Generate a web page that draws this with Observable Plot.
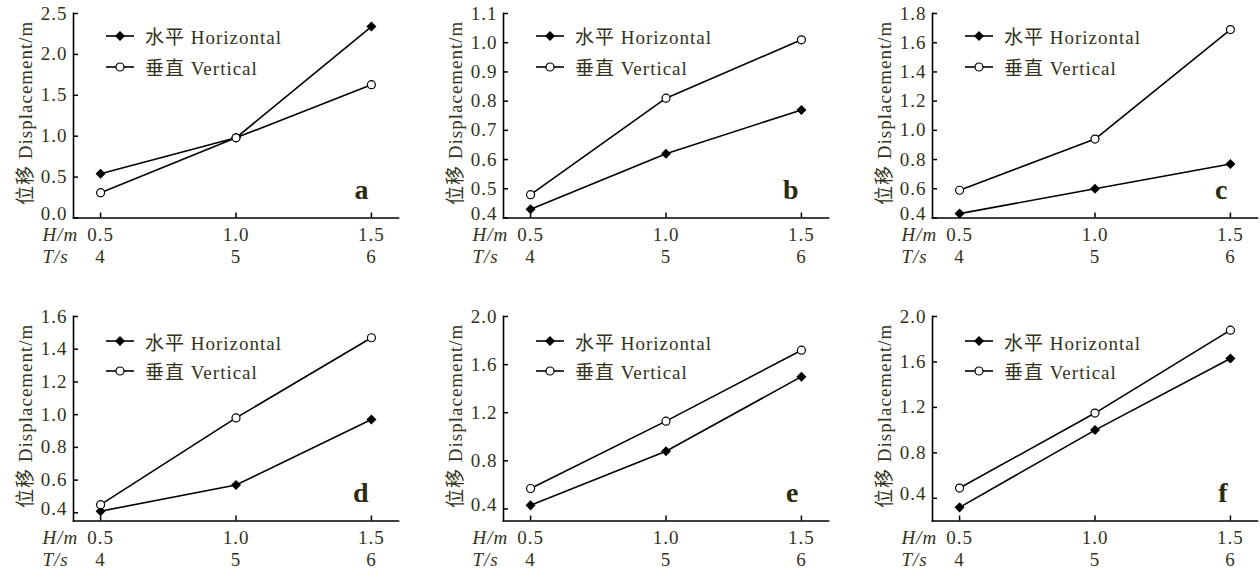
<!DOCTYPE html>
<html>
<head>
<meta charset="utf-8">
<script src="https://cdn.jsdelivr.net/npm/d3@7"></script>
<script src="https://cdn.jsdelivr.net/npm/@observablehq/plot@0.6"></script>
<style>
  body { margin: 0; background: #fff; }
  #wrap { position: relative; width: 1260px; height: 570px; overflow: hidden; background: #fff;
          font-family: "Liberation Serif", "Noto Sans CJK SC", serif; }
  .panel { position: absolute; }
  .legrow { position: absolute; display: flex; align-items: center; height: 24px;
            font-size: 19px; letter-spacing: 1px; color: #33331a; white-space: nowrap; }
  .legrow svg { margin-right: 11px; }
</style>
</head>
<body>
<div id="wrap"></div>
<script>
// ---- data ----
const hm = [0.5, 1.0, 1.5];          // H/m
const ts = [4, 5, 6];                // T/s
const seriesNames = ["水平 Horizontal", "垂直 Vertical"];
const letters = ["a", "b", "c", "d", "e", "f"];
const yLabel = "位移 Displacement/m";

const horizA = [0.54, 0.98, 2.34];
const vertA  = [0.31, 0.98, 1.63];
const horizB = [0.43, 0.62, 0.77];
const vertB  = [0.48, 0.81, 1.01];
const horizC = [0.43, 0.60, 0.77];
const vertC  = [0.59, 0.94, 1.69];
const horizD = [0.41, 0.57, 0.97];
const vertD  = [0.45, 0.98, 1.47];
const horizE = [0.43, 0.88, 1.50];
const vertE  = [0.57, 1.13, 1.72];
const horizF = [0.32, 1.00, 1.63];
const vertF  = [0.49, 1.15, 1.88];

const yTicksA = [0.0, 0.5, 1.0, 1.5, 2.0, 2.5];
const yTicksB = [0.4, 0.5, 0.6, 0.7, 0.8, 0.9, 1.0, 1.1];
const yTicksC = [0.4, 0.6, 0.8, 1.0, 1.2, 1.4, 1.6, 1.8];
const yTicksD = [0.4, 0.6, 0.8, 1.0, 1.2, 1.4, 1.6];
const yTicksE = [0.4, 0.8, 1.2, 1.6, 2.0];
const yTicksF = [0.4, 0.8, 1.2, 1.6, 2.0];

const yDomainA = [0, 2.5];
const yDomainB = [0.4, 1.1];
const yDomainC = [0.4, 1.8];
const yDomainD = [0.35, 1.6];
const yDomainE = [0.3, 2.0];
const yDomainF = [0.2, 2.0];

// ---- layout ----
const textColor = "#33331a";
const fontFamily = '"Liberation Serif", "Noto Sans CJK SC", serif';
const fmt = d3.format(".1f");
const marginLeft = 73;
const plotW = 325;
const plotH = 204.5;
const marginTop = 13;

const panels = [
  {left: 0,   top: 0,   width: 430, height: 285, legY: 23.5, legGap: 31, yDomain: yDomainA, yTicks: yTicksA, horiz: horizA, vert: vertA, letter: letters[0]},
  {left: 430, top: 0,   width: 430, height: 285, legY: 23.5, legGap: 31, yDomain: yDomainB, yTicks: yTicksB, horiz: horizB, vert: vertB, letter: letters[1]},
  {left: 859, top: 0,   width: 401, height: 285, legY: 23.5, legGap: 31, yDomain: yDomainC, yTicks: yTicksC, horiz: horizC, vert: vertC, letter: letters[2]},
  {left: 0,   top: 303, width: 430, height: 267, legY: 26,   legGap: 29.5, yDomain: yDomainD, yTicks: yTicksD, horiz: horizD, vert: vertD, letter: letters[3]},
  {left: 430, top: 303, width: 430, height: 267, legY: 26,   legGap: 29.5, yDomain: yDomainE, yTicks: yTicksE, horiz: horizE, vert: vertE, letter: letters[4]},
  {left: 859, top: 303, width: 401, height: 267, legY: 26,   legGap: 29.5, yDomain: yDomainF, yTicks: yTicksF, horiz: horizF, vert: vertF, letter: letters[5]}
];

const wrap = document.getElementById("wrap");

function legendSwatch(kind) {
  const ns = "http://www.w3.org/2000/svg";
  const svg = document.createElementNS(ns, "svg");
  svg.setAttribute("width", 28); svg.setAttribute("height", 12);
  const line = document.createElementNS(ns, "line");
  line.setAttribute("x1", 0); line.setAttribute("x2", 28);
  line.setAttribute("y1", 6); line.setAttribute("y2", 6);
  line.setAttribute("stroke", "black"); line.setAttribute("stroke-width", 1.6);
  svg.appendChild(line);
  if (kind === 0) {
    const p = document.createElementNS(ns, "path");
    p.setAttribute("d", "M14,1L19,6L14,11L9,6Z");
    p.setAttribute("fill", "black");
    svg.appendChild(p);
  } else {
    const c = document.createElementNS(ns, "circle");
    c.setAttribute("cx", 14); c.setAttribute("cy", 6); c.setAttribute("r", 4);
    c.setAttribute("fill", "white"); c.setAttribute("stroke", "black"); c.setAttribute("stroke-width", 1.2);
    svg.appendChild(c);
  }
  return svg;
}

for (const p of panels) {
  const rows = hm.map((h, i) => ({x: h, t: ts[i], h: p.horiz[i], v: p.vert[i]}));
  const marginRight = p.width - marginLeft - plotW;
  const marginBottom = p.height - marginTop - plotH;
  const firstTick = p.yTicks.slice(0, 1);
  const otherTicks = p.yTicks.slice(1);
  const chart = Plot.plot({
    width: p.width,
    height: p.height,
    marginLeft, marginRight, marginTop, marginBottom,
    style: {fontFamily, fontSize: "19px", color: textColor, background: "white", letterSpacing: "1px", overflow: "visible"},
    x: {domain: [0.4, 1.6]},
    y: {domain: p.yDomain},
    marks: [
      Plot.axisY(otherTicks, {tickSize: 0, tickPadding: 6, tickFormat: fmt, label: null, fill: textColor}),
      Plot.axisY(firstTick, {tickSize: 0, tickPadding: 6, tickFormat: fmt, label: null, fill: textColor, dy: -4}),
      Plot.axisX(hm, {tickSize: 0, tickPadding: 7, label: null, fill: textColor, lineHeight: 1.16,
                      tickFormat: d => `${fmt(d)}\n${ts[hm.indexOf(d)]}`}),
      Plot.tickY(p.yTicks, {stroke: "black", strokeWidth: 1.5, insetRight: plotW - 5}),
      Plot.tickX(hm, {stroke: "black", strokeWidth: 1.5, insetTop: plotH - 5}),
      Plot.frame({anchor: "left", stroke: "black", strokeWidth: 1.6}),
      Plot.frame({anchor: "bottom", stroke: "black", strokeWidth: 1.6}),
      Plot.line(rows, {x: "x", y: "h", stroke: "black", strokeWidth: 1.6}),
      Plot.dot(rows, {x: "x", y: "h", symbol: "square", rotate: 45, r: 4, fill: "black", stroke: "none"}),
      Plot.line(rows, {x: "x", y: "v", stroke: "black", strokeWidth: 1.6}),
      Plot.dot(rows, {x: "x", y: "v", symbol: "circle", r: 4, fill: "white", stroke: "black", strokeWidth: 1.2}),
      Plot.text([p.letter], {frameAnchor: "bottom-right", textAnchor: "end", dx: -29, dy: -19,
                             fontSize: 28, fontWeight: "bold", fill: "#2b2b0e"}),
      Plot.text(["H/m\nT/s"], {frameAnchor: "bottom-left", textAnchor: "start", lineAnchor: "top",
                               dx: -31, dy: 7, fontStyle: "italic", lineHeight: 1.16, fill: textColor}),
      Plot.text([yLabel], {frameAnchor: "left", textAnchor: "middle", lineAnchor: "middle",
                           rotate: -90, dx: -48, dy: -3, fill: textColor})
    ]
  });
  chart.classList.add("panel");
  chart.style.left = p.left + "px";
  chart.style.top = p.top + "px";
  wrap.appendChild(chart);

  seriesNames.forEach((name, k) => {
    const row = document.createElement("div");
    row.className = "legrow";
    row.style.left = (p.left + marginLeft + 33) + "px";
    row.style.top = (p.top + marginTop + p.legY + k * p.legGap - 13) + "px";
    row.appendChild(legendSwatch(k));
    const span = document.createElement("span");
    span.textContent = name;
    row.appendChild(span);
    wrap.appendChild(row);
  });
}
</script>
</body>
</html>
